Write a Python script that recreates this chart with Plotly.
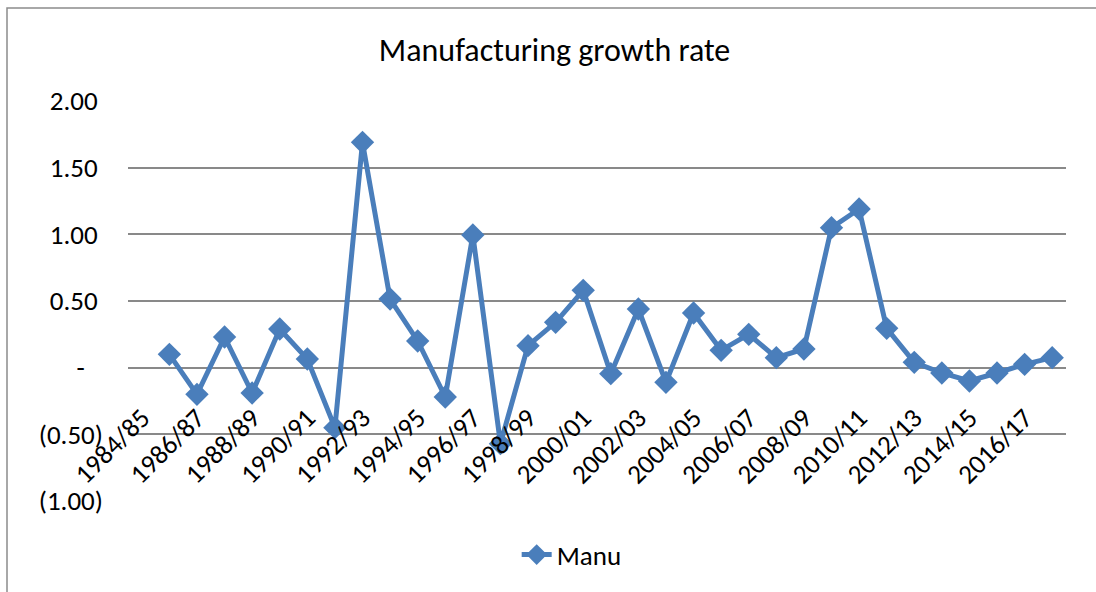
import plotly.graph_objects as go

years = ["1984/85", "1985/86", "1986/87", "1987/88", "1988/89", "1989/90", "1990/91",
         "1991/92", "1992/93", "1993/94", "1994/95", "1995/96", "1996/97", "1997/98",
         "1998/99", "1999/00", "2000/01", "2001/02", "2002/03", "2003/04", "2004/05",
         "2005/06", "2006/07", "2007/08", "2008/09", "2009/10", "2010/11", "2011/12",
         "2012/13", "2013/14", "2014/15", "2015/16", "2016/17", "2017/18"]
manu = [None, 0.10, -0.20, 0.23, -0.19, 0.29, 0.065, -0.45, 1.69, 0.515, 0.20,
        -0.22, 0.995, -0.57, 0.165, 0.34, 0.58, -0.045, 0.44, -0.11, 0.41, 0.13,
        0.25, 0.075, 0.14, 1.05, 1.19, 0.295, 0.04, -0.04, -0.10, -0.04, 0.025, 0.075]

ytick_vals = [-1.0, -0.5, 0.0, 0.5, 1.0, 1.5, 2.0]
ytick_text = ["(1.00)", "(0.50)", "-\u00a0\u00a0\u00a0", "0.50\u2009", "1.00\u2009", "1.50\u2009", "2.00\u2009"]
xtick_vals = years[::2]

FONT = "Carlito, Lato, 'Open Sans', sans-serif"
BLUE = "#4A7EBB"
GRID = "#898989"

fig = go.Figure()
fig.add_trace(go.Scatter(
    x=years, y=manu, name="Manu", mode="lines+markers",
    line=dict(color=BLUE, width=5),
    marker=dict(symbol="diamond", size=18, color=BLUE),
    connectgaps=False,
))

L, R, T, B = 128, 30, 101, 91
W, H = 1096, 592
pw, ph = W - L - R, H - T - B

fig.update_layout(
    width=W, height=H,
    margin=dict(l=L, r=R, t=T, b=B),
    paper_bgcolor="white", plot_bgcolor="white",
    font=dict(family=FONT, size=27, color="black"),
    title=dict(text="Manufacturing growth rate", x=0.506, xref="container",
               y=1 - 50 / H, yref="container", xanchor="center", yanchor="middle",
               font=dict(size=32, family=FONT, color="black")),
    showlegend=True,
    legend=dict(orientation="h", x=0.473, xanchor="center", y=(501 - 555) / ph,
                yanchor="middle", font=dict(size=27, family=FONT),
                bgcolor="rgba(0,0,0,0)"),
    xaxis=dict(type="category", categoryorder="array", categoryarray=years,
               range=[-0.5, len(years) - 0.5], tickmode="array", tickvals=xtick_vals,
               ticktext=xtick_vals, tickangle=-45, showgrid=False, showline=False,
               zeroline=False, ticks="", anchor="free", position=1 / 3,
               ticklabelstandoff=28,
               tickfont=dict(size=27, family=FONT)),
    yaxis=dict(range=[-1, 2], tickmode="array", tickvals=ytick_vals, ticktext=ytick_text,
               showgrid=True, gridcolor=GRID, gridwidth=1.5, zeroline=False,
               showline=False, ticks="", ticklabelstandoff=24,
               tickfont=dict(size=27, family=FONT)),
    shapes=[dict(type="rect", xref="paper", yref="paper",
                 x0=(7 - L) / pw, x1=(1120 - L) / pw,
                 y0=(H - B - 620) / ph, y1=(H - B - 8) / ph,
                 line=dict(color="#8c8c8c", width=1.5), fillcolor="rgba(0,0,0,0)",
                 layer="below")],
)

fig.write_html("out.html")
